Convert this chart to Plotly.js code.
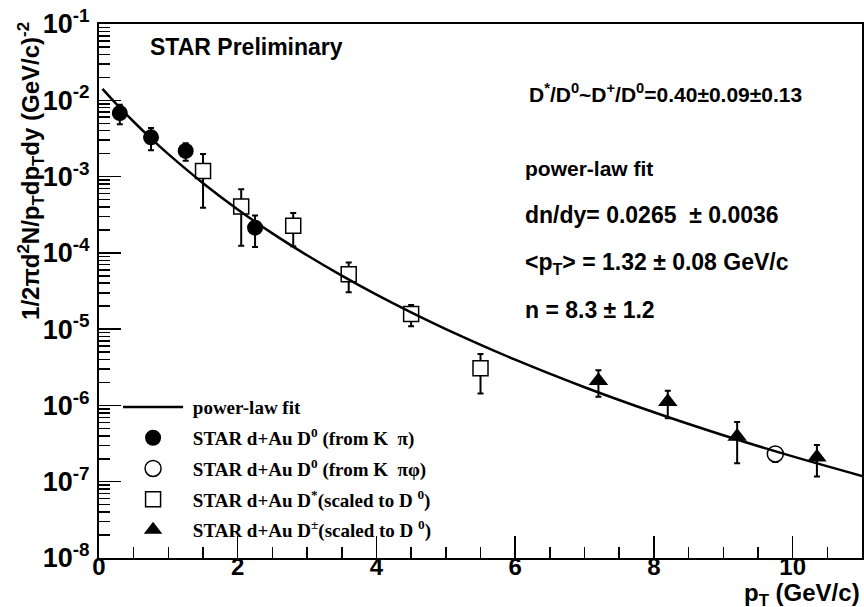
<!DOCTYPE html>
<html>
<head>
<meta charset="utf-8">
<script src="https://cdn.plot.ly/plotly-3.0.1.min.js"></script>
<style>html,body{margin:0;padding:0;background:#fff;}#chart{width:864px;height:607px;}</style>
</head>
<body>
<div id="chart"></div>
<script>
// ---- data ----
const fitPt = [0.05, 0.25, 0.5, 0.75, 1, 1.5, 2, 2.5, 3, 3.5, 4, 4.5, 5, 6, 7, 8, 9, 10, 11];
const fitY  = [1.41e-2, 8.94e-3, 5.23e-3, 3.16e-3, 1.966e-3, 8.20e-4, 3.71e-4, 1.80e-4, 9.29e-5, 5.02e-5, 2.83e-5, 1.657e-5, 1.002e-5, 3.98e-6, 1.733e-6, 8.14e-7, 4.07e-7, 2.15e-7, 1.19e-7];

const d0KpiPt  = [0.3, 0.75, 1.25, 2.25];
const d0KpiY   = [6.8e-3, 3.27e-3, 2.17e-3, 2.14e-4];
const d0KpiErr = [1.95e-3, 1.05e-3, 0.56e-3, 0.95e-4];

const d0KpipiPt  = [9.75];
const d0KpipiY   = [2.31e-7];
const d0KpipiErr = [0.5e-7];

const dStarPt  = [1.5, 2.05, 2.8, 3.6, 4.5, 5.5];
const dStarY   = [1.18e-3, 4.04e-4, 2.27e-4, 5.25e-5, 1.58e-5, 3.08e-6];
const dStarErr = [0.79e-3, 2.8e-4, 1.05e-4, 2.2e-5, 0.49e-5, 1.65e-6];

const dPmPt  = [7.2, 8.2, 9.2, 10.35];
const dPmY   = [2.1e-6, 1.12e-6, 3.9e-7, 2.1e-7];
const dPmErr = [0.8e-6, 0.44e-6, 2.15e-7, 0.93e-7];

const yTickVals = [1e-8, 1e-7, 1e-6, 1e-5, 1e-4, 1e-3, 1e-2, 1e-1];
const yTickText = ['10<sup>-8</sup>', '10<sup>-7</sup>', '10<sup>-6</sup>', '10<sup>-5</sup>', '10<sup>-4</sup>', '10<sup>-3</sup>', '10<sup>-2</sup>', '10<sup>-1</sup>'];

const legendNames = [
  '&nbsp;power-law fit',
  '&nbsp;STAR d+Au D<sup>0</sup> (from K  π)',
  '&nbsp;STAR d+Au D<sup>0</sup> (from K  πφ)',
  '&nbsp;STAR d+Au D<sup>*</sup>(scaled to D <sup>0</sup>)',
  '&nbsp;STAR d+Au D<sup>±</sup>(scaled to D <sup>0</sup>)'
];

// ---- styling ----
const SANS = 'Liberation Sans, Arial, sans-serif';
const SERIF = 'Liberation Serif, Times New Roman, serif';
const errStyle = (arr) => ({type: 'data', array: arr, visible: true, color: 'black', thickness: 2, width: 3});

const traces = [
  {
    x: d0KpiPt, y: d0KpiY, type: 'scatter', mode: 'markers', name: legendNames[1],
    legendgroup: 'g2', legendrank: 2,
    marker: {symbol: 'circle', size: 16, color: 'black'},
    error_y: errStyle(d0KpiErr)
  },
  {
    x: d0KpipiPt, y: d0KpipiY, type: 'scatter', mode: 'markers', name: legendNames[2],
    legendgroup: 'g3', legendrank: 3,
    marker: {symbol: 'circle', size: 16, color: 'white', line: {color: 'black', width: 1.5}},
    error_y: errStyle(d0KpipiErr)
  },
  {
    x: dStarPt, y: dStarY, type: 'scatter', mode: 'markers', name: legendNames[3],
    legendgroup: 'g4', legendrank: 4,
    marker: {symbol: 'square', size: 15, color: 'white', line: {color: 'black', width: 1.5}},
    error_y: errStyle(dStarErr)
  },
  {
    x: dPmPt, y: dPmY, type: 'scatter', mode: 'markers', name: legendNames[4],
    legendgroup: 'g5', legendrank: 5,
    marker: {symbol: 'triangle-up', size: 17, color: 'black'},
    error_y: errStyle(dPmErr)
  },
  {
    x: fitPt, y: fitY, type: 'scatter', mode: 'lines', name: legendNames[0],
    legendgroup: 'g1', legendrank: 1,
    line: {color: 'black', width: 2.5, shape: 'spline', smoothing: 0.8}
  }
];

const ann = (text, x, y, size, extra) => Object.assign({
  text: text, x: x, y: y, xref: 'paper', yref: 'paper', showarrow: false,
  xanchor: 'left', yanchor: 'middle',
  font: {family: SANS, size: size, color: 'black', weight: 'bold'}
}, extra || {});

const layout = {
  width: 864, height: 607,
  margin: {l: 99, r: 2, t: 24, b: 49},
  paper_bgcolor: 'white', plot_bgcolor: 'white',
  showlegend: true,
  legend: {
    x: 0.025, y: 0.318, xanchor: 'left', yanchor: 'top',
    bgcolor: 'rgba(0,0,0,0)', borderwidth: 0,
    traceorder: 'grouped', tracegroupgap: 3, itemwidth: 60,
    font: {family: SERIF, size: 19, color: 'black', weight: 'bold'}
  },
  xaxis: {
    range: [0, 11], showgrid: false, zeroline: false,
    showline: true, linecolor: 'black', linewidth: 2, mirror: true,
    ticks: 'inside', ticklen: 22, tickwidth: 1.5, tickcolor: 'black',
    tick0: 0, dtick: 2, ticklabelstandoff: -14,
    tickfont: {family: SANS, size: 24, color: 'black', weight: 'bold'},
    minor: {ticks: 'inside', ticklen: 11, tickwidth: 1.5, tickcolor: 'black', dtick: 0.5, showgrid: false}
  },
  yaxis: {
    type: 'log', range: [-8, -1], showgrid: false, zeroline: false,
    showline: true, linecolor: 'black', linewidth: 2, mirror: true,
    ticks: 'inside', ticklen: 22, tickwidth: 1.5, tickcolor: 'black',
    tickmode: 'array', tickvals: yTickVals, ticktext: yTickText,
    ticklabelstandoff: 2,
    tickfont: {family: SANS, size: 27, color: 'black', weight: 'bold'},
    minor: {ticks: 'inside', ticklen: 11, tickwidth: 1.5, tickcolor: 'black', dtick: 'D1', showgrid: false}
  },
  annotations: [
    ann('STAR Preliminary', 0.064, 0.957, 23),
    ann('D<sup>*</sup>/D<sup>0</sup>~D<sup>+</sup>/D<sup>0</sup>=0.40±0.09±0.13', 0.561, 0.871, 21),
    ann('power-law fit', 0.5557, 0.730, 21),
    ann('dn/dy= 0.0265  ± 0.0036', 0.5557, 0.642, 23),
    ann('&lt;p<sub>T</sub>&gt; = 1.32 ± 0.08 GeV/c', 0.5557, 0.552, 23),
    ann('n = 8.3 ± 1.2', 0.5557, 0.464, 23),
    ann('p<sub>T</sub> (GeV/c)', 1.0, -0.068, 24, {xanchor: 'right'}),
    ann('1/2πd<sup>2</sup>N/p<sub>T</sub>dp<sub>T</sub>dy (GeV/c)<sup>-2</sup>', -0.089, 0.725, 24,
        {xanchor: 'center', textangle: -90})
  ]
};

Plotly.newPlot('chart', traces, layout, {staticPlot: true, displayModeBar: false});
</script>
</body>
</html>
